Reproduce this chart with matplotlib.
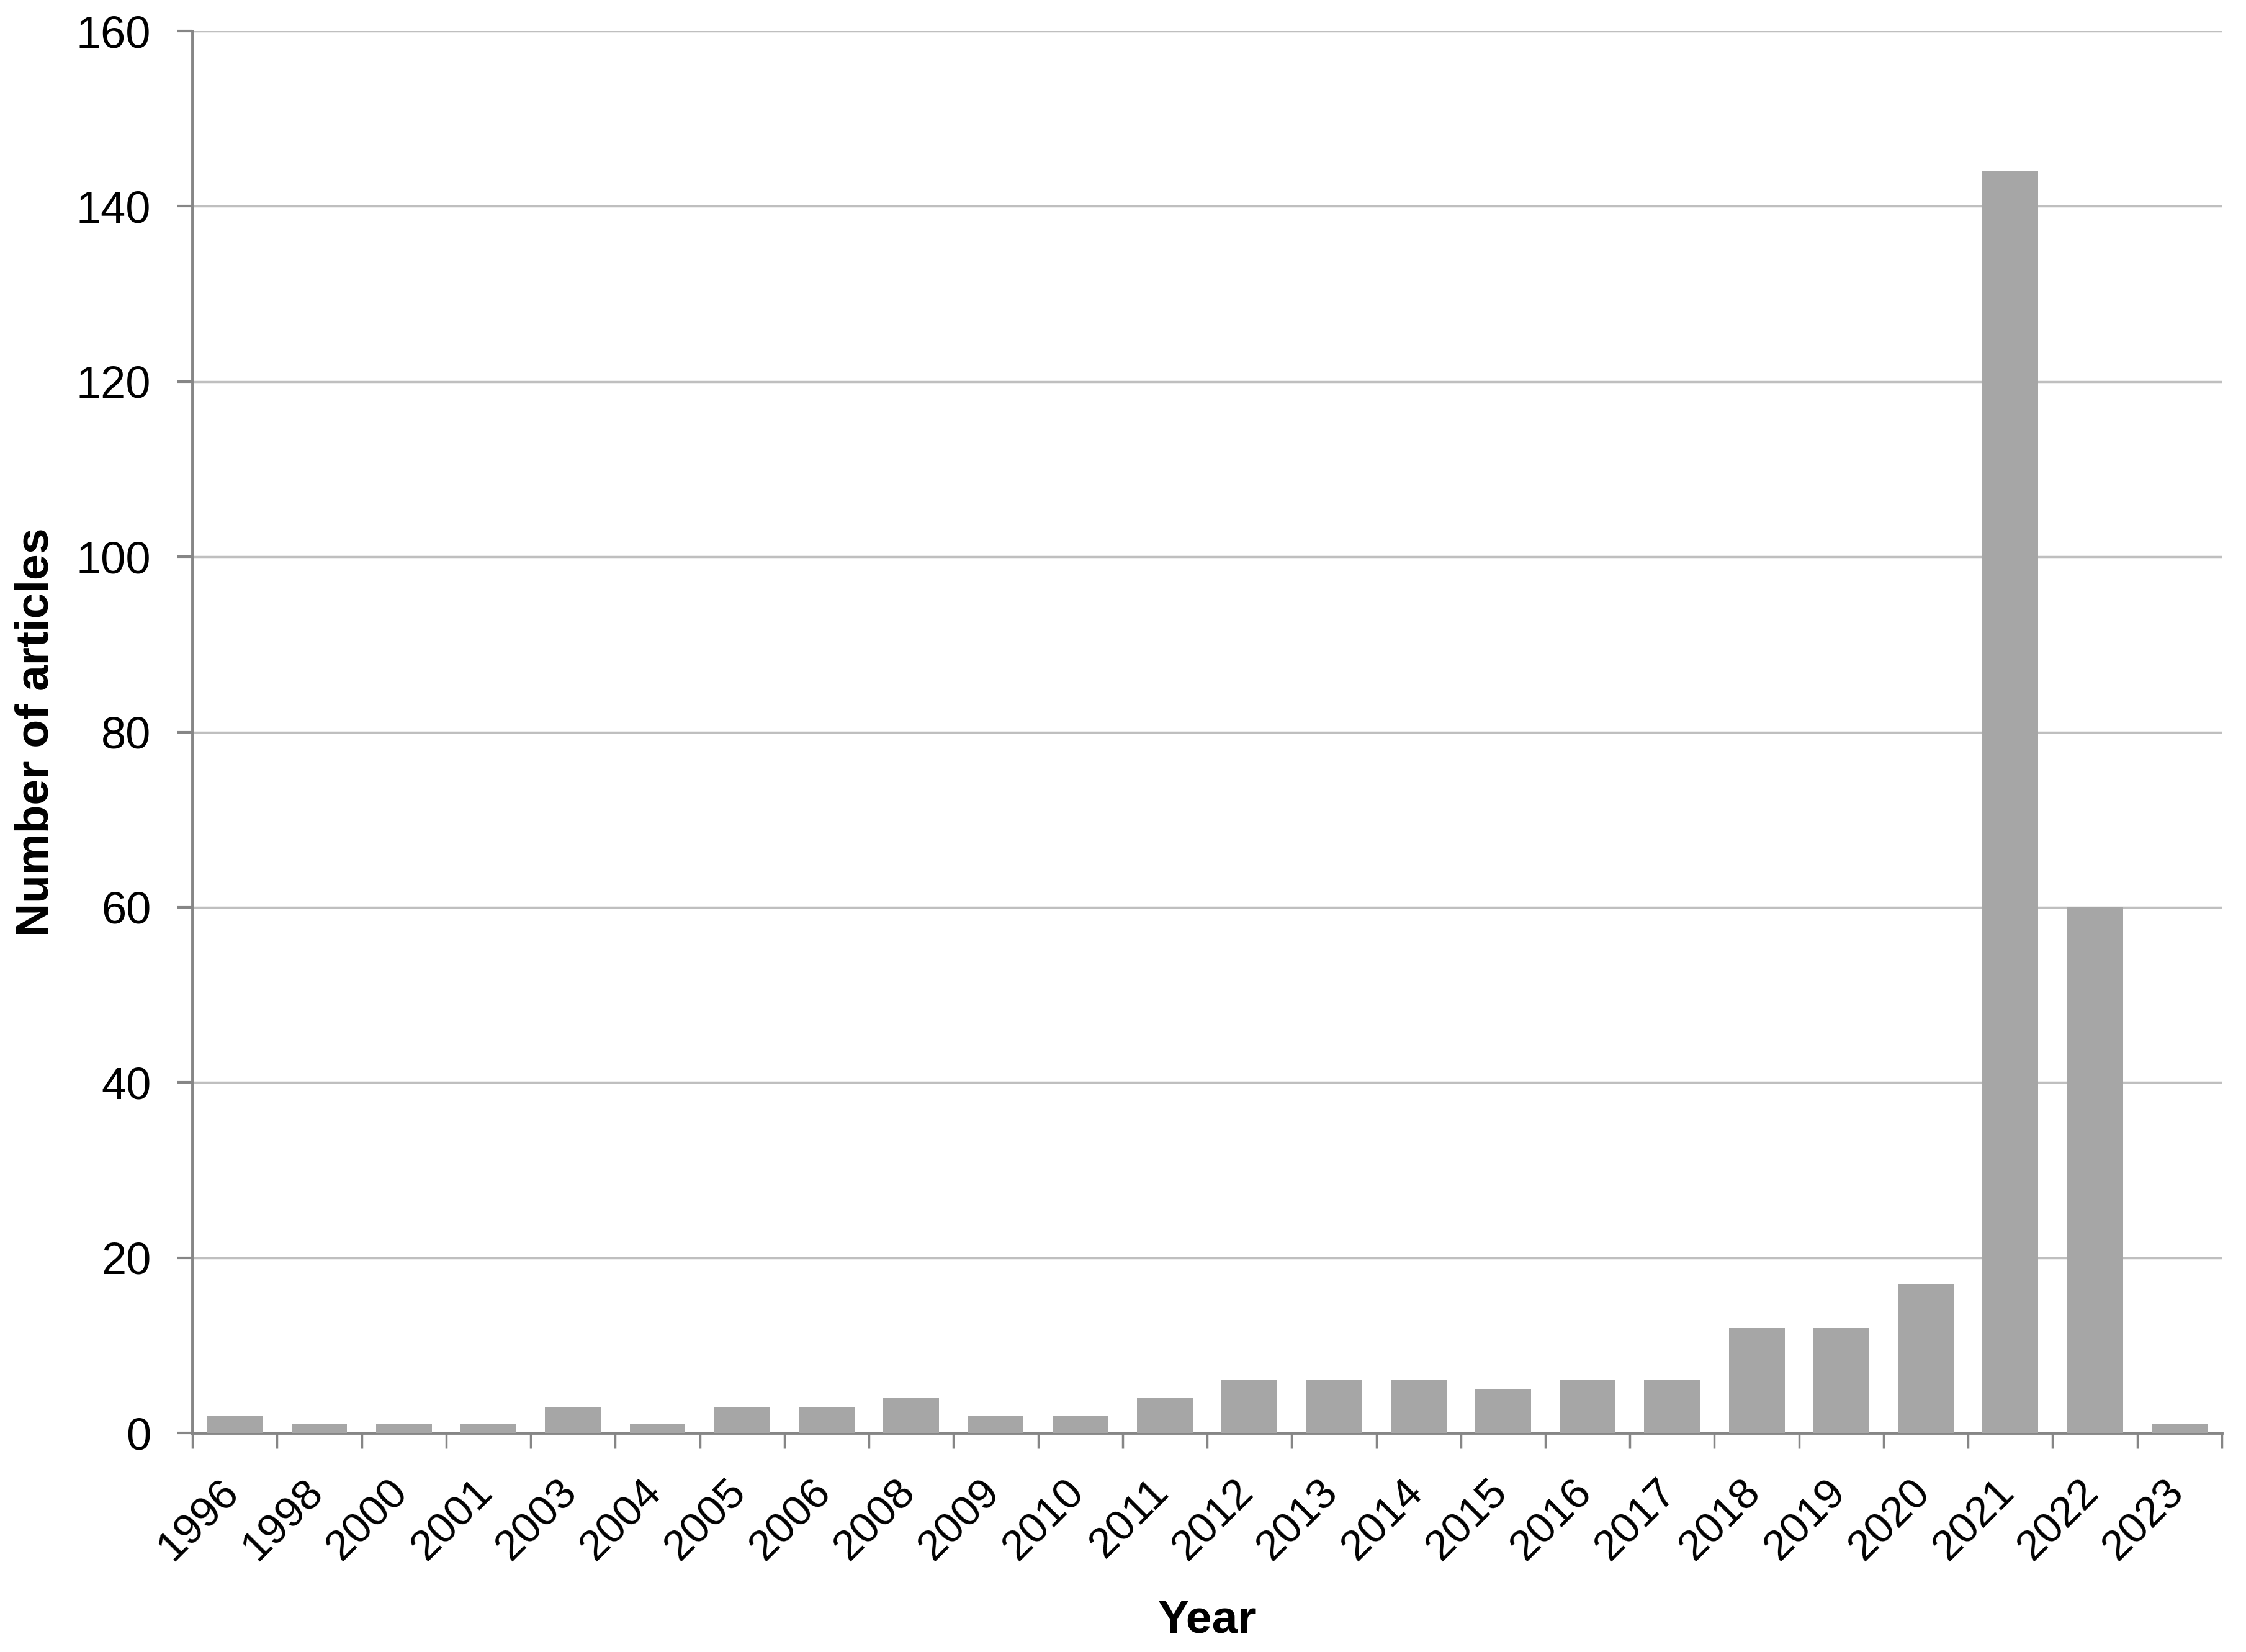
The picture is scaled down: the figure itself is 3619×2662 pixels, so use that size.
import matplotlib
matplotlib.use("Agg")
import matplotlib.pyplot as plt
from matplotlib.transforms import ScaledTranslation
import numpy as np

years = ["1996", "1998", "2000", "2001", "2003", "2004", "2005", "2006", "2008",
         "2009", "2010", "2011", "2012", "2013", "2014", "2015", "2016", "2017",
         "2018", "2019", "2020", "2021", "2022", "2023"]
articles = [2, 1, 1, 1, 3, 1, 3, 3, 4, 2, 2, 4, 6, 6, 6, 5, 6, 6, 12, 12, 17, 144, 60, 1]
yticks = [0, 20, 40, 60, 80, 100, 120, 140, 160]

plt.rcParams['font.family'] = ['Liberation Sans', 'DejaVu Sans']

fig = plt.figure(figsize=(36.19, 26.62), dpi=100)
ax = fig.add_axes([0.0857, 0.1326, 0.9035, 0.8486])

x = np.arange(len(years))
ax.bar(x, articles, width=0.66, color='#a6a6a6', zorder=3)

ax.set_xlim(-0.5, len(years) - 0.5)
ax.set_ylim(0, 160)
ax.set_yticks(yticks)
ax.set_yticklabels([str(v) for v in yticks], fontsize=52)
ax.yaxis.grid(True, color='#bfbfbf', linewidth=2.5, zorder=0)
ax.set_axisbelow(True)

ax.set_xticks(x)
ax.set_xticklabels(years, rotation=45, ha='right', rotation_mode='anchor', fontsize=50)
ax.set_xticks(np.arange(len(years) + 1) - 0.5, minor=True)
ax.tick_params(axis='x', which='major', length=0, pad=30)
ax.tick_params(axis='x', which='minor', length=18, width=2.5, color='#868686')
ax.tick_params(axis='y', length=18, width=3, color='#868686', pad=30)

offset = ScaledTranslation(-26 / 100, -21 / 100, fig.dpi_scale_trans)
for lab in ax.get_xticklabels():
    lab.set_transform(lab.get_transform() + offset)

for s in ['top', 'right']:
    ax.spines[s].set_visible(False)
for s in ['left', 'bottom']:
    ax.spines[s].set_color('#868686')
    ax.spines[s].set_linewidth(3.5)

ax.set_ylabel('Number of articles', fontsize=54, fontweight='bold', labelpad=22)
ax.set_xlabel('Year', fontsize=54, fontweight='bold', labelpad=36)

fig.savefig('out.png', dpi=100, facecolor='white')
